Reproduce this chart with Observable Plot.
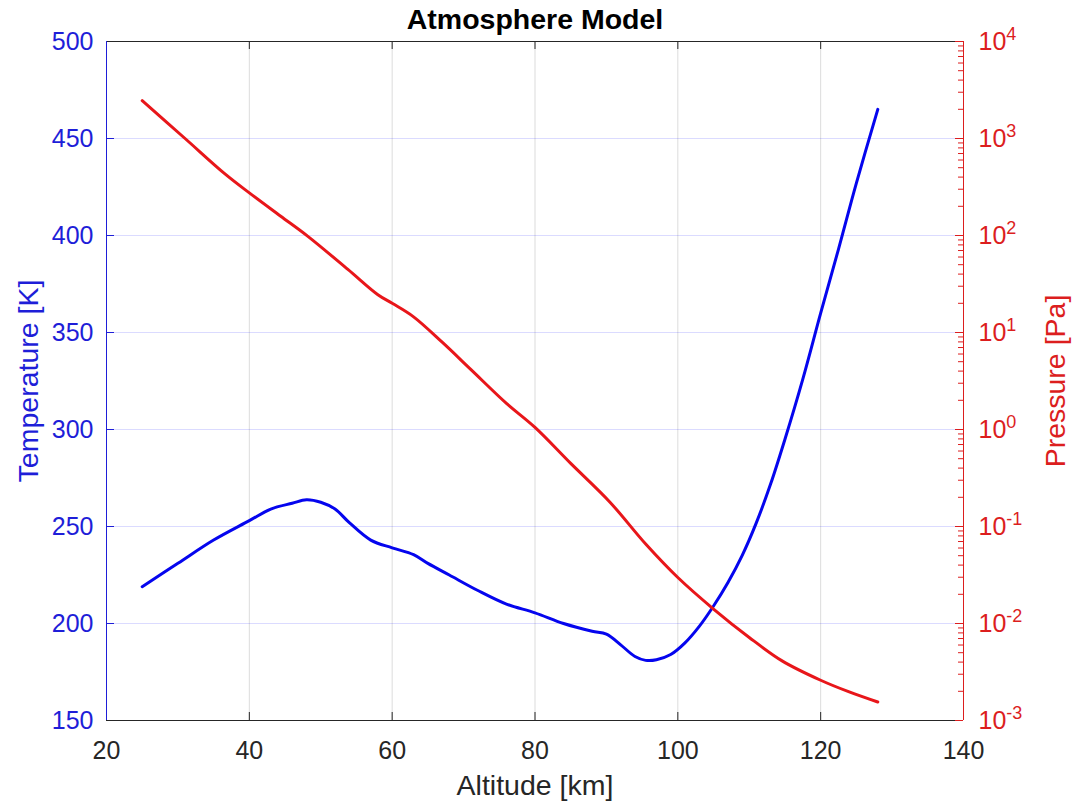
<!DOCTYPE html>
<html><head><meta charset="utf-8">
<script src="https://cdn.jsdelivr.net/npm/d3@7"></script>
<script src="https://cdn.jsdelivr.net/npm/@observablehq/plot@0.6"></script>
<style>
body{margin:0;background:#fff;}
#wrap{position:relative;width:1080px;height:805px;background:#fff;}
#wrap svg{position:absolute;left:0;top:0;}
</style></head><body><div id="wrap"></div>
<script>
// Temperature profile (blue, left axis)
const altT  = [25, 30, 35, 40, 43, 46, 48, 50, 52, 54, 57, 60, 63, 65, 68, 72, 76, 80, 84, 88, 90, 92, 94, 95.5, 97, 99, 101, 103, 105, 107, 109, 111, 113, 115, 117.5, 120, 122.5, 125, 128];
const tempK = [219, 231, 243, 253, 259, 262, 263.8, 262.5, 259, 252, 243, 239, 235.5, 231, 225, 217, 210, 205.5, 200, 196, 194.5, 189, 183, 181, 181.3, 184, 190, 198.5, 209, 221, 235, 252, 272, 295, 326, 360, 393, 427, 465];
// Pressure profile (red, right log axis)
const altP   = [25, 31, 36.5, 40, 44.4, 48.2, 53.8, 58, 60, 63, 67, 71, 76, 80, 85, 90.5, 95.5, 100, 105, 110, 114.6, 120, 124, 128];
const presPa = [2455, 1000, 437, 275, 158, 98, 44.7, 24.5, 20, 14.5, 7.94, 4.17, 1.86, 1.05, 0.447, 0.178, 0.066, 0.0298, 0.0141, 0.00718, 0.00412, 0.0026, 0.00197, 0.00155];
// Ticks
const xTicks = [20, 40, 60, 80, 100, 120, 140];
const tTicks = [150, 200, 250, 300, 350, 400, 450, 500];
const pTicks = [1e-3, 1e-2, 1e-1, 1e0, 1e1, 1e2, 1e3, 1e4];
const pMinorTicks = d3.scaleLog().domain([1e-3, 1e4]).ticks();

const blue = "#0505ee", red = "#e8161a", blueAxis = "#1e1ed8", redAxis = "#dc1e1e", dark = "#262626";
const W = 1080, H = 805, mT = 41, mR = 117, mB = 85, mL = 106;
const fw = W - mL - mR, fh = H - mT - mB;
const common = {
  width: W, height: H,
  marginTop: mT, marginRight: mR, marginBottom: mB, marginLeft: mL,
  style: {background: "transparent", fontFamily: "Liberation Sans, Arial, sans-serif", fontSize: "25px", overflow: "visible"}
};
const none = () => "";

const p1 = Plot.plot({
  ...common,
  x: {domain: [20, 140]},
  y: {domain: [150, 500]},
  marks: [
    Plot.gridX(xTicks, {stroke: "#000", strokeOpacity: 0.14}),
    Plot.gridY(tTicks, {stroke: "#0000ff", strokeOpacity: 0.14}),
    // inward ticks
    Plot.tickX(xTicks, {x: d => d, insetTop: fh - 8, stroke: dark}),
    Plot.tickX(xTicks, {x: d => d, insetBottom: fh - 8, stroke: dark}),
    Plot.tickY(tTicks, {y: d => d, insetRight: fw - 8, stroke: blueAxis}),
    Plot.ruleY([150], {stroke: dark}),
    Plot.ruleY([500], {stroke: dark}),
    Plot.ruleX([20], {stroke: blueAxis}),
    // tick labels
    Plot.axisX({anchor: "bottom", ticks: xTicks, tickSize: 0, tickPadding: 21, color: dark, label: null}),
    Plot.axisY({anchor: "left", ticks: tTicks, tickSize: 0, tickPadding: 13, color: blueAxis, label: null}),
    Plot.line(altT, {x: altT, y: tempK, stroke: blue, strokeWidth: 3, curve: "catmull-rom"}),
    Plot.text(["Altitude [km]"], {text: d => d, frameAnchor: "bottom", lineAnchor: "middle", dy: 65, fontSize: 28.5, fill: dark}),
    Plot.text(["Temperature [K]"], {text: d => d, frameAnchor: "left", textAnchor: "middle", dx: -78, rotate: -90, fontSize: 28.5, fill: blueAxis}),
    Plot.text(["Atmosphere Model"], {text: d => d, frameAnchor: "top", lineAnchor: "middle", dy: -22, fontSize: 28.5, fontWeight: "bold", fill: "#000"})
  ]
});

const p2 = Plot.plot({
  ...common,
  x: {domain: [20, 140], axis: null},
  y: {type: "log", domain: [1e-3, 1e4], axis: null},
  marks: [
    Plot.line(altP, {x: altP, y: presPa, stroke: red, strokeWidth: 3, curve: "catmull-rom"}),
    Plot.tickY(pMinorTicks, {y: d => d, insetLeft: fw - 5, stroke: redAxis}),
    Plot.tickY(pTicks, {y: d => d, insetLeft: fw - 8, stroke: redAxis}),
    Plot.ruleX([140], {stroke: redAxis}),
    Plot.axisY({anchor: "right", ticks: pTicks, tickSize: 0, tickPadding: 15, textAnchor: "start",
      tickFormat: d => String(Math.round(Math.log10(d))), color: redAxis, label: null}),
    Plot.text(["Pressure [Pa]"], {text: d => d, frameAnchor: "right", textAnchor: "middle", dx: 92, rotate: -90, fontSize: 28.5, fill: redAxis})
  ]
});

// render exponents as superscripts
p2.querySelectorAll('g[aria-label="y-axis tick label"] text').forEach(t => {
  const e = t.textContent;
  if (!e) return;
  t.textContent = "10";
  const s = document.createElementNS("http://www.w3.org/2000/svg", "tspan");
  s.setAttribute("font-size", "18");
  s.setAttribute("dy", "-10");
  s.textContent = e;
  t.appendChild(s);
});

const wrap = document.getElementById("wrap");
wrap.appendChild(p1);
wrap.appendChild(p2);
</script></body></html>
